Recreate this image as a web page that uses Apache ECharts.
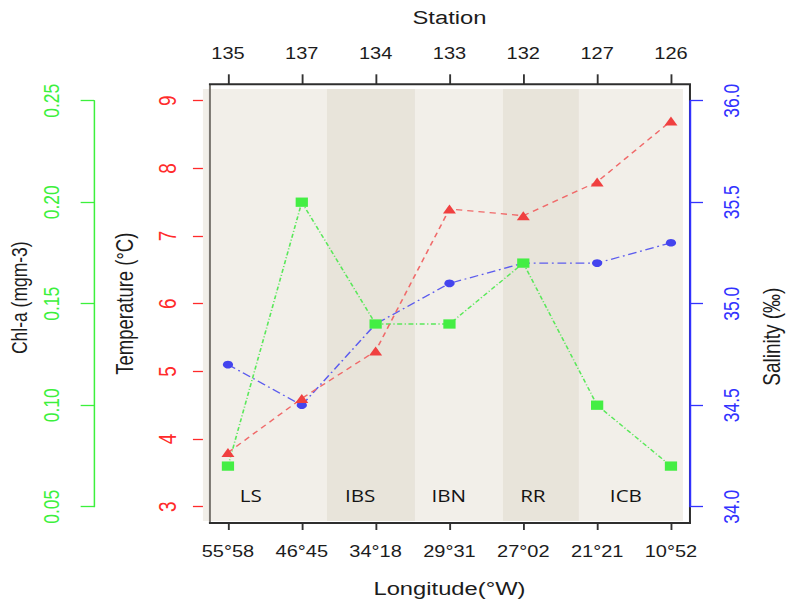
<!DOCTYPE html>
<html>
<head>
<meta charset="utf-8">
<script src="https://cdn.jsdelivr.net/npm/echarts@6.0.0/dist/echarts.min.js"></script>
<style>
  html, body { margin: 0; padding: 0; background: #ffffff; overflow: hidden; }
  #chart { width: 631px; height: 605px; transform-origin: 0 0; transform: scaleX(1.2504); }
</style>
</head>
<body>
<div id="chart"></div>
<script>
// ---- data ----
const longitudes = ['55°58', '46°45', '34°18', '29°31', '27°02', '21°21', '10°52'];
const stations = ['135', '137', '134', '133', '132', '127', '126'];
const temperature = [3.8, 4.6, 5.3, 7.4, 7.3, 7.8, 8.7];          // °C
const salinity = [34.70, 34.50, 34.90, 35.10, 35.20, 35.20, 35.30]; // ‰
const chla = [0.07, 0.20, 0.14, 0.14, 0.17, 0.10, 0.07];            // mg m-3
const regionNames = ['LS', 'IBS', 'IBN', 'RR', 'ICB'];
// region limits along the transect, in station-index units
const regionLimits = [-0.339, 1.341, 2.533, 3.725, 4.754, 6.163];

// ---- layout ----
const regionLabelX = [0.31, 1.79, 2.99, 4.13, 5.39];
const regionLabelY = 0.059;
const bandColors = ['#f2efe9', '#e8e4da'];

const regions = regionNames.map((n, i) => [regionLimits[i], regionLimits[i + 1], i]);
const regionLabels = regionNames.map((n, i) => [regionLabelX[i], regionLabelY, n]);

const FONT = 'Liberation Sans, Arial, sans-serif';
const RED = '#ff2a2a', BLUE = '#3232ff', GREEN = '#3cf03c';

const chart = echarts.init(document.getElementById('chart'), null, { renderer: 'svg' });

chart.setOption({
  animation: false,
  backgroundColor: '#ffffff',
  grid: [
    { left: 162.3, right: 84.8, top: 89, bottom: 84, outerBoundsMode: 'none' },
    { left: 182.3, right: 94.4, top: 100.7, bottom: 98.3, outerBoundsMode: 'none' }
  ],
  xAxis: [
    { gridIndex: 0, type: 'value', min: regionLimits[0], max: regionLimits[regionLimits.length - 1], show: false },
    {
      gridIndex: 1, type: 'category', position: 'bottom', data: longitudes, boundaryGap: false,
      offset: 16.3,
      axisLine: { show: false },
      axisTick: { show: true, length: 7, inside: false, lineStyle: { color: '#333', width: 1.5 } },
      axisLabel: { color: '#1c1c1c', fontSize: 16, fontFamily: FONT, margin: 21 },
      splitLine: { show: false },
      name: 'Longitude(°W)', nameLocation: 'middle', nameGap: 56,
      nameTextStyle: { color: '#1c1c1c', fontSize: 19, fontFamily: FONT }
    },
    {
      gridIndex: 1, type: 'category', position: 'top', data: stations, boundaryGap: false,
      offset: 16.4,
      axisLine: { show: false },
      axisTick: { show: true, length: 10, inside: false, lineStyle: { color: '#333', width: 1.5 } },
      axisLabel: { color: '#1c1c1c', fontSize: 16, fontFamily: FONT, margin: 23 },
      splitLine: { show: false },
      name: 'Station', nameLocation: 'middle', nameGap: 57,
      nameTextStyle: { color: '#1c1c1c', fontSize: 19, fontFamily: FONT }
    }
  ],
  yAxis: [
    { gridIndex: 0, type: 'value', min: 0, max: 1, show: false },
    {
      gridIndex: 1, type: 'value', position: 'left', offset: 20,
      min: 3, max: 9, interval: 1,
      axisLine: { show: false },
      axisTick: { show: true, length: 8, inside: false, lineStyle: { color: RED, width: 1.3 } },
      axisLabel: { rotate: 90, color: RED, fontSize: 19, fontFamily: FONT, margin: 18 },
      splitLine: { show: false },
      name: 'Temperature (°C)', nameLocation: 'middle', nameRotate: 90, nameGap: 53,
      nameTextStyle: { color: '#1c1c1c', fontSize: 18.5, fontFamily: FONT }
    },
    {
      gridIndex: 1, type: 'value', position: 'right', offset: 15.2, z: 20,
      min: 34, max: 36, interval: 0.5,
      axisLine: { show: true, lineStyle: { color: BLUE, width: 1.6 } },
      axisTick: { show: true, length: 10.4, inside: false, lineStyle: { color: BLUE, width: 1.3 } },
      axisLabel: { rotate: 90, color: BLUE, fontSize: 17.5, fontFamily: FONT, margin: 24,
        formatter: v => v.toFixed(1) },
      splitLine: { show: false },
      name: 'Salinity (‰)', nameLocation: 'middle', nameRotate: 90, nameGap: 56,
      nameTextStyle: { color: '#1c1c1c', fontSize: 19, fontFamily: FONT, padding: [0, 66, 0, 0] }
    },
    {
      gridIndex: 1, type: 'value', position: 'left', offset: 107.1,
      min: 0.05, max: 0.25, interval: 0.05,
      axisLine: { show: true, lineStyle: { color: GREEN, width: 1.2 } },
      axisTick: { show: true, length: 10.7, inside: false, lineStyle: { color: GREEN, width: 1.3 } },
      axisLabel: { rotate: 90, color: GREEN, fontSize: 17.5, fontFamily: FONT, margin: 25,
        formatter: v => v.toFixed(2) },
      splitLine: { show: false },
      name: 'Chl-a (mgm-3)', nameLocation: 'middle', nameRotate: 90, nameGap: 46,
      nameTextStyle: { color: '#1c1c1c', fontSize: 17.5, fontFamily: FONT, padding: [0, 0, 0, 12] }
    }
  ],
  graphic: [
    { type: 'line', z: 100, shape: { x1: 167.9, y1: 84.3, x2: 167.9, y2: 523 }, style: { stroke: '#7a7670', lineWidth: 1.6 } },
    { type: 'line', z: 100, shape: { x1: 167.1, y1: 84.3, x2: 552.6, y2: 84.3 }, style: { stroke: '#2e2e2e', lineWidth: 2 } },
    { type: 'line', z: 100, shape: { x1: 167.1, y1: 523, x2: 552.6, y2: 523 }, style: { stroke: '#2e2e2e', lineWidth: 2 } },
    { type: 'line', z: 1, shape: { x1: 551.8, y1: 84.3, x2: 551.8, y2: 523 }, style: { stroke: '#2e2e2e', lineWidth: 1.6 } }
  ],
  series: [
    {
      name: 'regions', type: 'custom', xAxisIndex: 0, yAxisIndex: 0, silent: true, z: 0,
      data: regions,
      renderItem: (params, api) => {
        const p0 = api.coord([api.value(0), 1]);
        const p1 = api.coord([api.value(1), 0]);
        return {
          type: 'rect',
          shape: { x: p0[0], y: p0[1], width: p1[0] - p0[0], height: p1[1] - p0[1] },
          style: { fill: bandColors[api.value(2) % 2] }
        };
      }
    },
    {
      name: 'region labels', type: 'custom', xAxisIndex: 0, yAxisIndex: 0, silent: true, z: 1,
      data: regionLabels,
      renderItem: (params, api) => {
        const p = api.coord([api.value(0), api.value(1)]);
        return {
          type: 'text', x: p[0], y: p[1],
          style: {
            text: regionLabels[params.dataIndex][2],
            align: 'center', verticalAlign: 'middle',
            fill: '#151515', font: '16.5px "Open Sans", sans-serif'
          }
        };
      }
    },
    {
      name: 'Salinity', type: 'line', xAxisIndex: 1, yAxisIndex: 2, data: salinity, clip: false, z: 3,
      symbol: 'circle', symbolSize: [8.2, 7.6],
      itemStyle: { color: '#4444ee' },
      lineStyle: { color: '#5c5cee', width: 1.3, type: [7, 3, 1.5, 3] }
    },
    {
      name: 'Chl-a', type: 'line', xAxisIndex: 1, yAxisIndex: 3, data: chla, clip: false, z: 4,
      symbol: 'rect', symbolSize: [9.8, 9.3],
      itemStyle: { color: '#44ee44' },
      lineStyle: { color: '#5ae85a', width: 1.3, type: [4, 2, 1, 2] }
    },
    {
      name: 'Temperature', type: 'line', xAxisIndex: 1, yAxisIndex: 1, data: temperature, clip: false, z: 5,
      symbol: 'triangle', symbolSize: [10.4, 9],
      itemStyle: { color: '#f04040' },
      lineStyle: { color: '#f06a6a', width: 1.3, type: [5, 4] }
    }
  ]
});
</script>
</body>
</html>
